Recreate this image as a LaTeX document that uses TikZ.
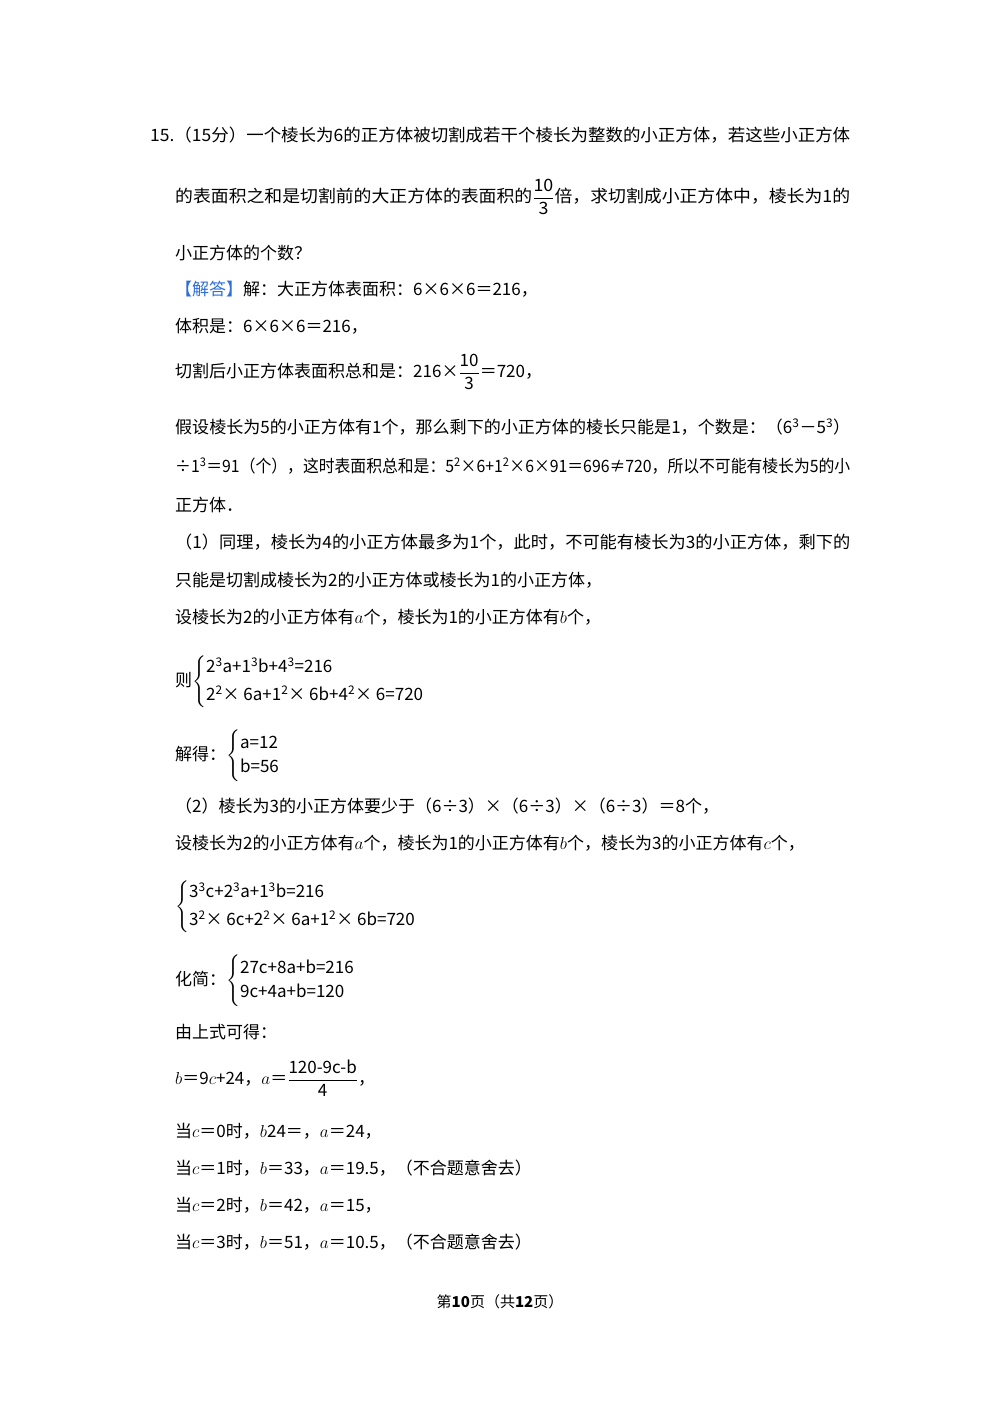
\documentclass[tikz,border=0pt]{standalone}
\usepackage{amsmath}
\usepackage{graphicx}
\usepackage{fontspec}
\setmainfont{Noto Sans CJK SC}
\usepackage{xcolor}
\newcommand{\sq}[1]{\textsuperscript{#1}}
\newcommand{\fw}[2]{\resizebox{#1pt}{\height}{#2}}
\begin{document}
\begin{tikzpicture}[x=1pt,y=-1pt,
  t/.style={anchor=west,inner sep=0pt,font=\fontsize{17}{20}\selectfont}]
\useasboundingbox (0,0) rectangle (1000,1415);
\fill[white] (0,0) rectangle (1000,1415);
\node[t] (l1) at (150,135) {\fw{700}{15.（15分）一个棱长为6的正方体被切割成若干个棱长为整数的小正方体，若这些小正方体}};
\node[t] (l2) at (175,197) {\fw{675}{的表面积之和是切割前的大正方体的表面积的$\dfrac{\text{10}}{\text{3}}$倍，求切割成小正方体中，棱长为1的}};
\node[t] (l3) at (175,253) {小正方体的个数？};
\node[t] (l4) at (175,289) {\textcolor[HTML]{2E6FD8}{【解答】}解：大正方体表面积：6×6×6＝216，};
\node[t] (l5) at (175,326) {体积是：6×6×6＝216，};
\node[t] (l6) at (175,372) {切割后小正方体表面积总和是：216×$\dfrac{\text{10}}{\text{3}}$＝720，};
\node[t] (l7) at (175,427) {\fw{675}{假设棱长为5的小正方体有1个，那么剩下的小正方体的棱长只能是1，个数是：（6\sq{3}－5\sq{3}）}};
\node[t] (l8) at (175,466) {\fw{675}{÷1\sq{3}＝91（个），这时表面积总和是：5\sq{2}×6+1\sq{2}×6×91＝696≠720，所以不可能有棱长为5的小}};
\node[t] (l9) at (175,505) {正方体．};
\node[t] (l10) at (175,542) {\fw{675}{（1）同理，棱长为4的小正方体最多为1个，此时，不可能有棱长为3的小正方体，剩下的}};
\node[t] (l11) at (175,580) {只能是切割成棱长为2的小正方体或棱长为1的小正方体，};
\node[t] (l12) at (175,617) {设棱长为2的小正方体有$a$个，棱长为1的小正方体有$b$个，};
\node[t] (l13) at (175,682) {则$\begin{cases}\text{2\sq{3}a+1\sq{3}b+4\sq{3}=216}\\[4pt]\text{2\sq{2}× 6a+1\sq{2}× 6b+4\sq{2}× 6=720}\end{cases}$};
\node[t] (l14) at (175,756) {解得：$\begin{cases}\text{a=12}\\\text{b=56}\end{cases}$};
\node[t] (l15) at (175,806) {（2）棱长为3的小正方体要少于（6÷3）×（6÷3）×（6÷3）＝8个，};
\node[t] (l16) at (175,843) {设棱长为2的小正方体有$a$个，棱长为1的小正方体有$b$个，棱长为3的小正方体有$c$个，};
\node[t] (l17) at (175,907) {$\begin{cases}\text{3\sq{3}c+2\sq{3}a+1\sq{3}b=216}\\[4pt]\text{3\sq{2}× 6c+2\sq{2}× 6a+1\sq{2}× 6b=720}\end{cases}$};
\node[t] (l18) at (175,981) {化简：$\begin{cases}\text{27c+8a+b=216}\\\text{9c+4a+b=120}\end{cases}$};
\node[t] (l19) at (175,1032) {由上式可得：};
\node[t] (l20) at (175,1078) {$b$＝9$c$+24，$a$＝$\dfrac{\text{120-9c-b}}{\text{4}}$，};
\node[t] (l21) at (175,1131) {当$c$＝0时，$b$24＝，$a$＝24，};
\node[t] (l22) at (175,1168) {当$c$＝1时，$b$＝33，$a$＝19.5，（不合题意舍去）};
\node[t] (l23) at (175,1205) {当$c$＝2时，$b$＝42，$a$＝15，};
\node[t] (l24) at (175,1242) {当$c$＝3时，$b$＝51，$a$＝10.5，（不合题意舍去）};
\node[t,anchor=center,font=\fontsize{15}{18}\selectfont] (ft) at (500,1302) {第\textbf{10}页（共\textbf{12}页）};
\end{tikzpicture}
\end{document}
